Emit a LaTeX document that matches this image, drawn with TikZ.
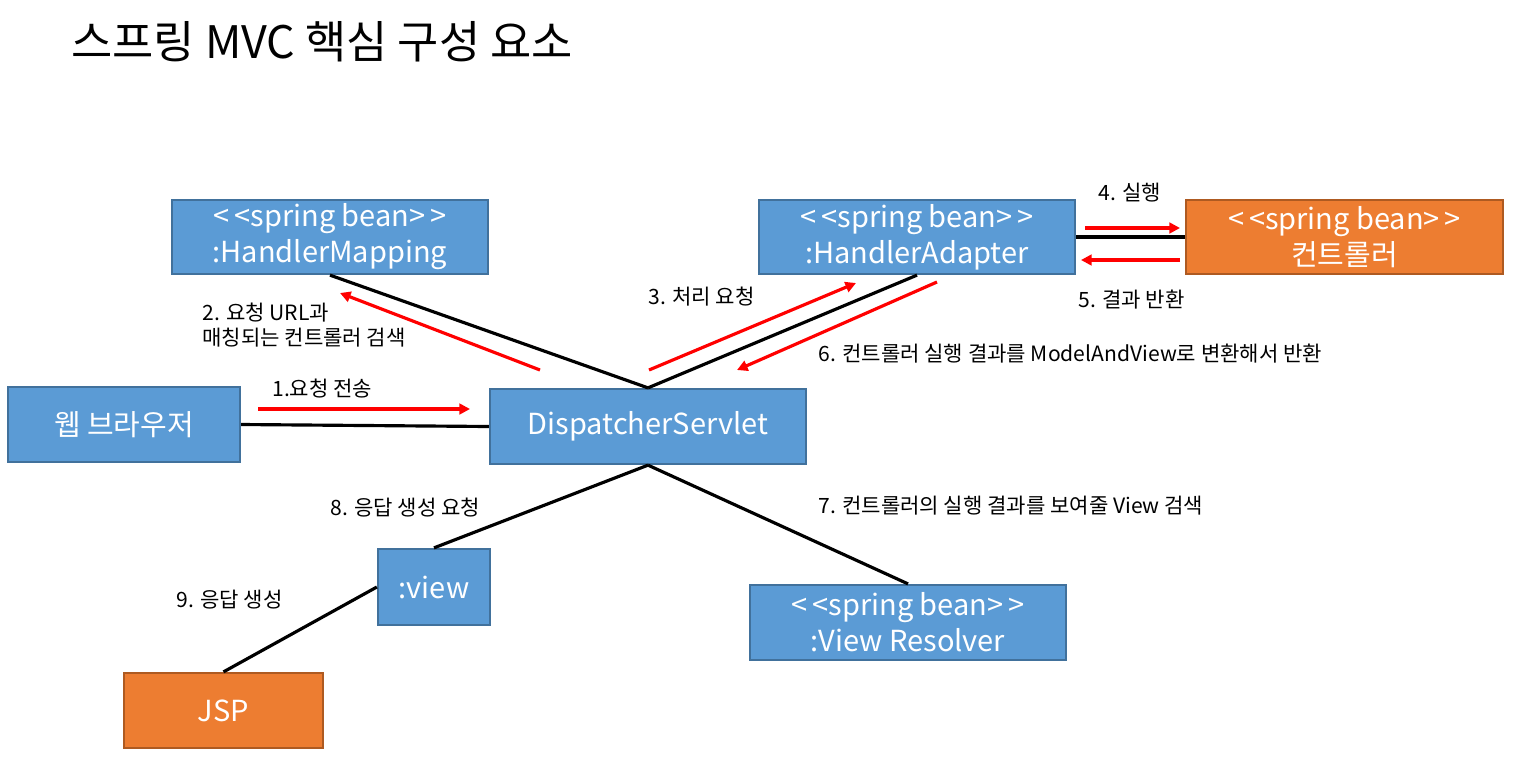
\documentclass[tikz,border=0pt]{standalone}
\usepackage{fontspec}
\setmainfont{Noto Sans CJK KR}
\usetikzlibrary{arrows.meta}
\definecolor{bfill}{HTML}{5B9BD5}
\definecolor{bdraw}{HTML}{41719C}
\definecolor{ofill}{HTML}{ED7D31}
\definecolor{odraw}{HTML}{AE5A21}
\definecolor{redar}{HTML}{FF0000}
\tikzset{
  box/.style={draw=bdraw, fill=bfill, line width=1.3pt, text=white, inner sep=0pt, align=center,
    font=\fontsize{16.5}{20.5}\selectfont},
  obox/.style={box, draw=odraw, fill=ofill},
  conn/.style={line width=1.8pt, black},
  rarrow/.style={line width=1.8pt, redar, -{Triangle[length=6pt,width=6pt]}},
  lbl/.style={anchor=west, inner sep=0pt, align=left, font=\fontsize{12}{14.5}\selectfont},
}
\begin{document}
\begin{tikzpicture}[x=0.02cm, y=-0.02cm]
\useasboundingbox[fill=white] (0,0) rectangle (1520,768);
% title
\node[anchor=west, inner sep=0pt, font=\fontsize{25.5}{30}\selectfont] (title) at (71,42) {스프링 MVC 핵심 구성 요소};
% boxes
\node[box, minimum width=6.32cm, minimum height=1.48cm] (hm) at (330,237) {<\,<spring bean>\,>\\:HandlerMapping};
\node[box, minimum width=6.32cm, minimum height=1.48cm] (ha) at (917,237) {<\,<spring bean>\,>\\:HandlerAdapter};
\node[obox, minimum width=6.34cm, minimum height=1.48cm] (ctrl) at (1344.5,237) {<\,<spring bean>\,>\\컨트롤러};
\node[box, minimum width=4.64cm, minimum height=1.5cm] (br) at (124,424.5) {웹 브라우저};
\node[box, minimum width=6.32cm, minimum height=1.5cm] (ds) at (648,426.5) {DispatcherServlet};
\node[box, minimum width=2.24cm, minimum height=1.52cm] (vw) at (434,587) {:view};
\node[box, minimum width=6.32cm, minimum height=1.5cm] (vr) at (908,622.5) {<\,<spring bean>\,>\\:View Resolver};
\node[obox, minimum width=3.98cm, minimum height=1.5cm] (jsp) at (223.5,710.5) {JSP};
% black connectors
\draw[conn] (hm.south) -- (ds.north);
\draw[conn] (ha.south) -- (ds.north);
\draw[conn] (br.east) -- (ds.west);
\draw[conn] (ha.east) -- (ctrl.west);
\draw[conn] (ds.south) -- (vw.north);
\draw[conn] (ds.south) -- (vr.north);
\draw[conn] (vw.west) -- (jsp.north);
% red arrows
\coordinate (a1s) at (258,409); \coordinate (a1e) at (470,409);
\coordinate (a2s) at (540,370); \coordinate (a2e) at (340,293);
\coordinate (a3s) at (649,370); \coordinate (a3e) at (856,283);
\coordinate (a6s) at (937,282); \coordinate (a6e) at (737,370);
\coordinate (a4s) at (1085,228); \coordinate (a4e) at (1180,228);
\coordinate (a5s) at (1180,260); \coordinate (a5e) at (1081,260);
\draw[rarrow] (a1s) -- (a1e);
\draw[rarrow] (a2s) -- (a2e);
\draw[rarrow] (a3s) -- (a3e);
\draw[rarrow] (a6s) -- (a6e);
\draw[rarrow] (a4s) -- (a4e);
\draw[rarrow] (a5s) -- (a5e);
% labels
\node[lbl] (l1) at (272,389) {1.요청 전송};
\node[lbl] (l2) at (202,325) {2. 요청 URL과\\매칭되는 컨트롤러 검색};
\node[lbl] (l3) at (648,297) {3. 처리 요청};
\node[lbl] (l4) at (1098,193) {4. 실행};
\node[lbl] (l5) at (1078,300) {5. 결과 반환};
\node[lbl] (l6) at (818,354) {6. 컨트롤러 실행 결과를 ModelAndView로 변환해서 반환};
\node[lbl] (l7) at (818,506) {7. 컨트롤러의 실행 결과를 보여줄 View 검색};
\node[lbl] (l8) at (330,508) {8. 응답 생성 요청};
\node[lbl] (l9) at (176,600) {9. 응답 생성};
\end{tikzpicture}
\end{document}
